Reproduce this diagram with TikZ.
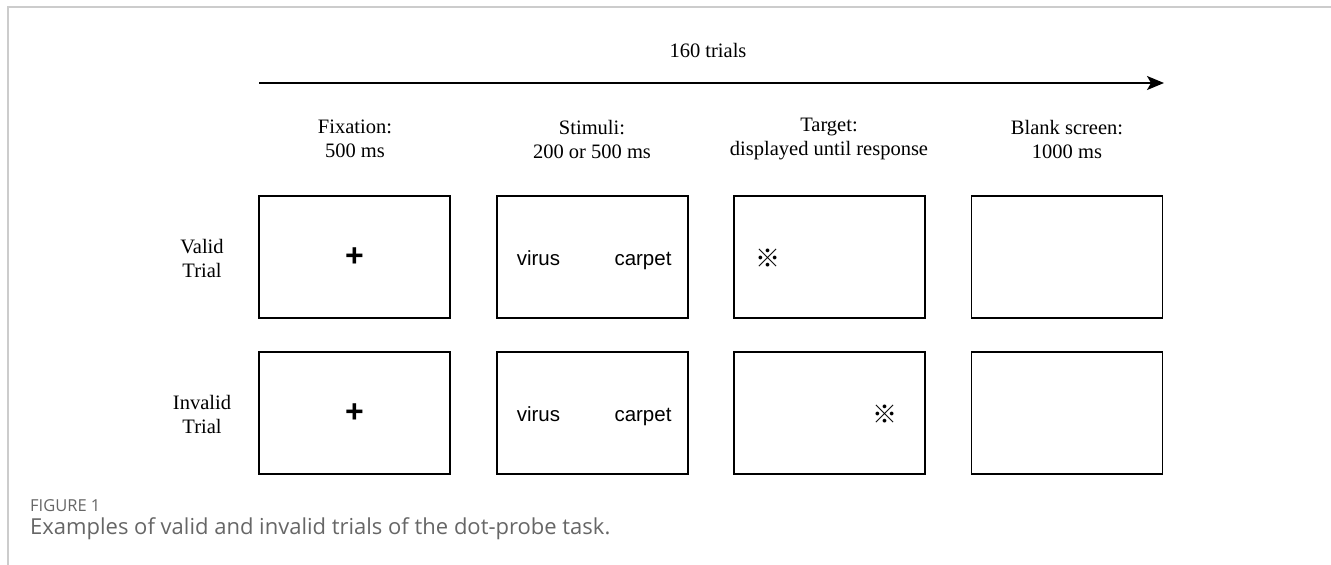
\documentclass[tikz,border=0pt]{standalone}
\usepackage{fontspec}
\setmainfont{Liberation Serif}
\newfontfamily\arialfont{Liberation Sans}
\newfontfamily\capfont{Open Sans}
\newfontfamily\cjkfont{Noto Sans CJK SC}
\usetikzlibrary{arrows.meta}
\definecolor{framegray}{HTML}{CCCCCC}
\definecolor{capgray}{HTML}{666666}
\tikzset{
  screen/.style={draw=black, line width=1.4pt, minimum width=191pt, minimum height=122pt, inner sep=0pt},
  header/.style={align=center, font=\fontsize{20.5}{24}\selectfont, inner sep=0pt},
  rowlabel/.style={align=center, font=\fontsize{20.5}{24}\selectfont, inner sep=0pt},
  word/.style={font=\arialfont\fontsize{20.5}{24}\selectfont, inner sep=0pt},
  plus/.style={font=\arialfont\bfseries\fontsize{32}{32}\selectfont, inner sep=0pt},
  probe/.style={font=\cjkfont\fontsize{25}{25}\selectfont, inner sep=0pt},
  framelinestyle/.style={draw=framegray, line width=1.6pt},
}
\begin{document}
\begin{tikzpicture}[x=1pt, y=-1pt]
\useasboundingbox (0,0) rectangle (1331,565);
\draw[framelinestyle] (8,565) -- (8,7) -- (1331,7);

% time arrow
\coordinate (arrS) at (259,83);
\coordinate (arrE) at (1164,83);
\draw[line width=1.6pt, -{Stealth[length=17pt, width=14pt, inset=4pt]}] (arrS) -- (arrE);
\node[header] (trials) at (708,50) {160 trials};

% headers
\node[header] (h1) at (355,139) {Fixation:\\500 ms};
\node[header] (h2) at (592,139) {Stimuli:\\200 or 500 ms};
\node[header] (h3) at (829,139) {Target:\\displayed until response};
\node[header] (h4) at (1067,139) {Blank screen:\\1000 ms};

% row labels
\node[rowlabel] (valid) at (202,258) {Valid\\Trial};
\node[rowlabel] (invalid) at (202,414) {Invalid\\Trial};

% row 1
\node[screen] (a1) at (354.5,257) {};
\node[screen] (b1) at (592.5,257) {};
\node[screen] (c1) at (829.5,257) {};
\node[screen] (d1) at (1067,257) {};
% row 2
\node[screen] (a2) at (354.5,413) {};
\node[screen] (b2) at (592.5,413) {};
\node[screen] (c2) at (829.5,413) {};
\node[screen] (d2) at (1067,413) {};

\node[plus] (p1) at (a1.center) {+};
\node[plus] (p2) at (a2.center) {+};
\node[word, anchor=base] (v1) at (538.5,265) {virus};
\node[word, anchor=base] (cp1) at (643,265) {carpet};
\node[word, anchor=base] (v2) at (538.5,421) {virus};
\node[word, anchor=base] (cp2) at (643,421) {carpet};
\node[probe] (t1) at (768,258) {※};
\node[probe] (t2) at (885,414) {※};

% caption
\node[anchor=west, inner sep=0pt, text=capgray, font=\capfont\fontsize{16.5}{18}\selectfont] (fig) at (30,506) {FIGURE 1};
\node[anchor=west, inner sep=0pt, text=capgray, font=\capfont\fontsize{22}{24}\selectfont] (cap) at (30,529) {Examples of valid and invalid trials of the dot-probe task.};
\end{tikzpicture}
\end{document}
